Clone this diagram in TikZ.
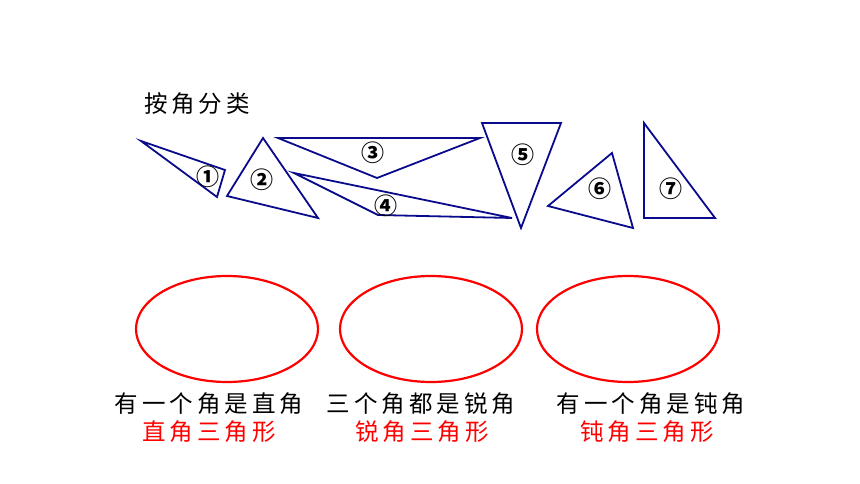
\documentclass[tikz,border=0pt]{standalone}
\usepackage{fontspec}
\newfontfamily\cjk[LetterSpace=17]{Noto Sans CJK SC}
\newfontfamily\cjknum{Noto Sans CJK SC}
\definecolor{triblue}{RGB}{10,10,140}
\tikzset{
  tri/.style={draw=triblue,line width=1.8pt,line join=miter},
  num/.style={font=\cjknum\bfseries\fontsize{23}{23}\selectfont,inner sep=0pt},
  kind/.style={draw=red,line width=2.2pt},
  rule/.style={font=\cjk\fontsize{23.5}{25}\selectfont,text=black,inner sep=0pt},
  tname/.style={font=\cjk\fontsize{23.5}{25}\selectfont,text=red,inner sep=0pt}
}
\begin{document}
\begin{tikzpicture}[x=1pt,y=-1pt]
\useasboundingbox (0,0) rectangle (860,484);
\node[rule] (title) at (197,104) {按角分类};
%%%% triangles
\draw[tri] (141,141) coordinate (A1) -- (225,170) coordinate (B1) -- (217,197) coordinate (C1) -- cycle;
\node[num] (n1) at (208,177) {①};
\draw[tri] (263,138) coordinate (A2) -- (227,196) coordinate (B2) -- (318,218) coordinate (C2) -- cycle;
\node[num] (n2) at (262,180) {②};
\draw[tri] (278,138) coordinate (A3) -- (480,138) coordinate (B3) -- (377,178) coordinate (C3) -- cycle;
\node[num] (n3) at (373,153) {③};
\draw[tri] (294,173) coordinate (A4) -- (378,215) coordinate (B4) -- (512,218) coordinate (C4) -- cycle;
\node[num] (n4) at (386,206) {④};
\draw[tri] (482,123) coordinate (A5) -- (561,123) coordinate (B5) -- (521,228) coordinate (C5) -- cycle;
\node[num] (n5) at (523,155) {⑤};
\draw[tri] (612,153) coordinate (A6) -- (548,206) coordinate (B6) -- (633,228) coordinate (C6) -- cycle;
\node[num] (n6) at (600,189) {⑥};
\draw[tri] (644,123) coordinate (A7) -- (644,218) coordinate (B7) -- (715,218) coordinate (C7) -- cycle;
\node[num] (n7) at (671,189) {⑦};
%%%% sets
\draw[kind] (227,329) ellipse (91pt and 53pt);
\draw[kind] (431,329) ellipse (91pt and 53pt);
\draw[kind] (628,329) ellipse (91pt and 53pt);
%
\node[rule] (r1) at (209,404) {有一个角是直角};
\node[rule] (r2) at (421,404) {三个角都是锐角};
\node[rule] (r3) at (651,404) {有一个角是钝角};
\node[tname] (t1) at (209,432) {直角三角形};
\node[tname] (t2) at (422,432) {锐角三角形};
\node[tname] (t3) at (647,432) {钝角三角形};
\end{tikzpicture}
\end{document}
